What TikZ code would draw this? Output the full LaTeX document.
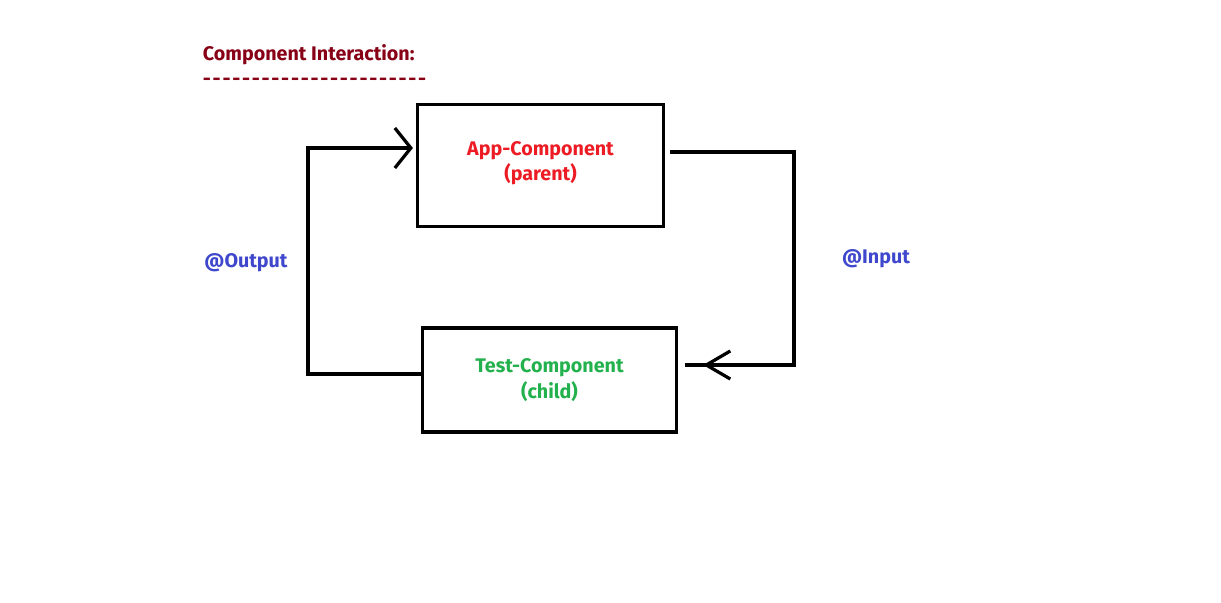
\documentclass[tikz,border=0pt]{standalone}
\usepackage{fontspec}
\setmainfont{Fira Sans}
\usepackage{xcolor}
\usetikzlibrary{arrows.meta,decorations.markings}

\definecolor{titlered}{RGB}{136,0,21}
\definecolor{parentred}{RGB}{237,28,36}
\definecolor{childgreen}{RGB}{34,177,76}
\definecolor{labelblue}{RGB}{63,72,204}

\begin{document}
\begin{tikzpicture}[
      x=0.025cm, y=-0.025cm,
      font=\bfseries\fontsize{14}{18}\selectfont,
      % Reusable styles
      comp/.style={
        draw=black,
        line width=2.2pt,
        align=center,
        inner sep=0pt
      },
      link/.style={draw=black, line width=2.3pt},
      lbl/.style={text=labelblue}
    ]
    \useasboundingbox[fill=white] (0,0) rectangle (1221,603);

    % Title
    \node[anchor=west, text=titlered] (title) at (198,55) {Component Interaction:};
    \node[anchor=west, text=titlered] (rule) at (198,82)
      {\addfontfeature{Ligatures=TeXOff, LetterSpace=9}-----------------------};

    % Nodes
    \node[comp, minimum width=6.15cm, minimum height=3.05cm,
          text=parentred] (app) at (540.5,165.5)
      {App-Component\\(parent)\\[-12pt]};
    \node[comp, minimum width=6.35cm, minimum height=2.6cm,
          text=childgreen] (test) at (549.5,380)
      {Test-Component\\(child)};

    \node[lbl] (output) at (246,263) {@Output};
    \node[lbl] (input) at (876,259) {@Input};

    % Edges
    \draw[link, -{Straight Barb[length=0.4cm, width=1cm]}, shorten >=0.075cm]
      (test.west |- 0,374) -| (308,148) -- (app.west |- 0,148);
    \draw[link, shorten <=0.125cm, shorten >=0.175cm,
          postaction={decorate},
          decoration={markings,
            mark=at position -0.625cm with {\arrow{Straight Barb[length=0.6cm, width=0.7cm]}}}]
      (app.east |- 0,152) -| (794,365) -- (test.east |- 0,365);
  \end{tikzpicture}
\end{document}
